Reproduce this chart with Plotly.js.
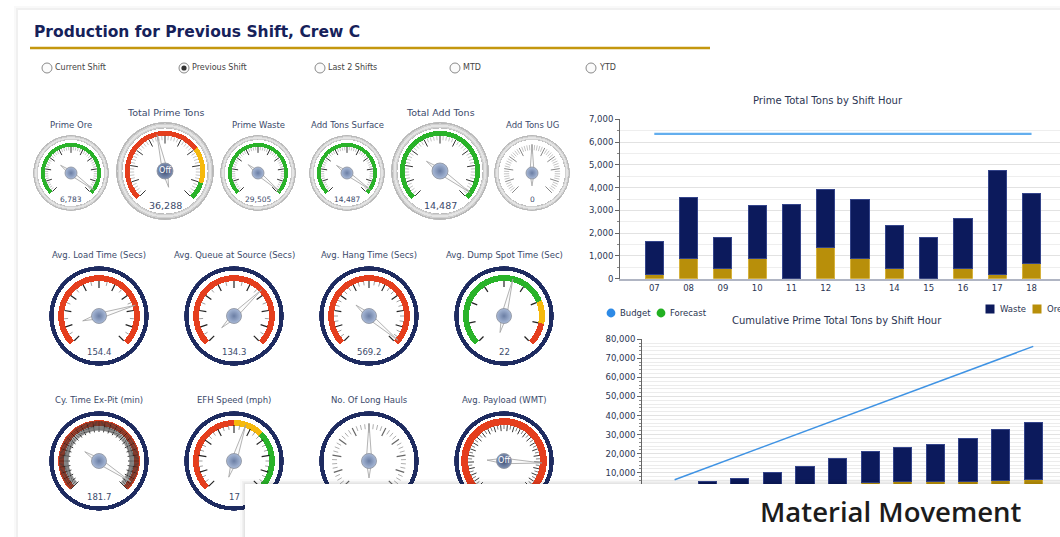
<!DOCTYPE html>
<html><head><meta charset="utf-8">
<script src="https://cdn.plot.ly/plotly-3.0.1.min.js"></script>
<style>html,body{margin:0;padding:0;background:#fff;overflow:hidden}#chart{width:1060px;height:537px}</style>
</head><body><div id="chart"></div><script>
// ================= DATA =================
const shiftHours = ['07','08','09','10','11','12','13','14','15','16','17','18'];
const oreTons    = [206, 908, 439, 908, 0, 1391, 908, 439, 0, 439, 205, 688];
const wasteTons  = [1419, 2650, 1377, 2328, 3266, 2534, 2592, 1889, 1816, 2197, 4540, 3061];
const budgetTons = [6356, 6356, 6356, 6356, 6356, 6356, 6356, 6356, 6356, 6356, 6356, 6356];
const budgetCumulative = [6356, 12712, 19068, 25424, 31780, 38136, 44492, 50848, 57204, 63560, 69916, 76272];
const forecastCumulative = [];

const periodOptions = ['Current Shift', 'Previous Shift', 'Last 2 Shifts', 'MTD', 'YTD'];
const selectedPeriod = 1;

const gaugeNames = ['Prime Ore', 'Total Prime Tons', 'Prime Waste', 'Add Tons Surface', 'Total Add Tons', 'Add Tons UG',
  'Avg. Load Time (Secs)', 'Avg. Queue at Source (Secs)', 'Avg. Hang Time (Secs)', 'Avg. Dump Spot Time (Sec)',
  'Cy. Time Ex-Pit (min)', 'EFH Speed (mph)', 'No. Of Long Hauls', 'Avg. Payload (WMT)'];
const gaugeValues    = [6783, 36288, 29505, 14487, 14487, 0, 154.4, 134.3, 569.2, 22, 181.7, 17, 0, 228];
const gaugeValueText = ['6,783', '36,288', '29,505', '14,487', '14,487', '0', '154.4', '134.3', '569.2', '22', '181.7', '17', '', ''];
const gaugeHubText   = ['', 'Off', '', '', '', '', '', '', '', '', '', '', '', 'Off'];
const gaugeMin = [0, 0, 0, 0, 0, -10, 0, 0, 0, 0, 0, 0, -10, 0];
const gaugeMax = [7000, 80000, 30000, 15000, 15000, 10, 200, 200, 580, 40, 190, 30, 10, 270];
const gaugeBandStops  = [[7000], [56000, 72000, 80000], [30000], [15000], [15000], [], [200], [200], [580], [30, 35, 40], [190], [15, 20, 30], [], [270]];
const gaugeBandColors = [['g'], ['r', 'y', 'g'], ['g'], ['g'], ['g'], [], ['r'], ['r'], ['r'], ['g', 'y', 'r'], ['r'], ['r', 'y', 'g'], [], ['r']];

// ================= STYLE / LAYOUT =================
const W = 1060, H = 537;
const P = x => x / W, Q = y => 1 - y / H;
const FONT = 'DejaVu Sans, Verdana, sans-serif';
const TXT = '#3b4a6b';
const COLORS = {g: '#29b329', r: '#e53e1d', y: '#f6b90c'};

// cx, cy, R, style, kind
const gaugePos = [
  [71, 173, 38, 'bezel', 's'], [165, 171, 49, 'bezel', 'b'], [258, 173, 38, 'bezel', 's'],
  [347, 173, 38, 'bezel', 's'], [440, 171, 49, 'bezel', 'b'], [532, 173, 38, 'bezel', 's'],
  [99, 316, 50, 'ring', 'm'], [234, 316, 50, 'ring', 'm'], [369, 316, 50, 'ring', 'm'], [504, 316, 50, 'ring', 'm'],
  [99, 461, 50, 'ring', 'm'], [234, 461, 50, 'ring', 'm'], [369, 461, 50, 'ring', 'm'], [504, 461, 50, 'ring', 'm']
];
// nMaj, nMin, majColor, minColor, rMajIn, rMinIn, rOut, majW, minW
const tickStyle = [
  [10, 5, '#333', '#9a9a9a', 0.53, 0.6, 0.69, 1, 0.6],
  [10, 5, '#333', '#9a9a9a', 0.56, 0.63, 0.72, 1, 0.6],
  [10, 5, '#333', '#9a9a9a', 0.53, 0.6, 0.69, 1, 0.6],
  [10, 5, '#333', '#9a9a9a', 0.53, 0.6, 0.69, 1, 0.6],
  [10, 5, '#333', '#9a9a9a', 0.56, 0.63, 0.72, 1, 0.6],
  [10, 5, '#888', '#aaaaaa', 0.5, 0.6, 0.74, 1, 0.7],
  [10, 2, '#222', '#888', 0.56, 0.62, 0.70, 1.2, 0.8],
  [10, 2, '#222', '#888', 0.56, 0.62, 0.70, 1.2, 0.8],
  [10, 3, '#222', '#888', 0.56, 0.62, 0.70, 1.1, 0.8],
  [8, 1, '#222', '#888', 0.58, 0.58, 0.70, 1.2, 0.8],
  [30, 5, '#222', '#3a3a3a', 0.58, 0.61, 0.80, 0.9, 0.8],
  [10, 3, '#222', '#777', 0.56, 0.63, 0.72, 1.1, 0.7],
  [10, 4, '#666', '#999', 0.56, 0.64, 0.74, 1.2, 0.8],
  [25, 2, '#222', '#444', 0.6, 0.64, 0.72, 0.9, 0.7]
];

const traces = [];
const shapes = [];
const annotations = [];
const layout = {
  width: W, height: H, margin: {l: 0, r: 0, t: 0, b: 0},
  paper_bgcolor: '#ffffff', plot_bgcolor: 'rgba(0,0,0,0)',
  showlegend: false, barmode: 'stack', hovermode: false,
  font: {family: FONT, size: 9, color: '#2b3552'}
};

// ---- card background ----
shapes.push({type: 'rect', xref: 'paper', yref: 'paper', layer: 'below', x0: P(14), x1: P(1070), y0: Q(560), y1: Q(6), fillcolor: 'rgba(0,0,0,0.025)', line: {width: 0}});
shapes.push({type: 'rect', xref: 'paper', yref: 'paper', layer: 'below', x0: P(16), x1: P(1070), y0: Q(560), y1: Q(8), fillcolor: 'rgba(0,0,0,0.035)', line: {width: 0}});
shapes.push({type: 'rect', xref: 'paper', yref: 'paper', layer: 'below', x0: P(18), x1: P(1070), y0: Q(560), y1: Q(10), fillcolor: '#ffffff', line: {width: 0}});

// ---- header ----
annotations.push({xref: 'paper', yref: 'paper', x: P(32), y: Q(32), xanchor: 'left', yanchor: 'middle', showarrow: false,
  text: '<b>Production for Previous Shift, Crew C</b>', font: {family: FONT, size: 15.5, color: '#16215a'}});
shapes.push({type: 'line', xref: 'paper', yref: 'paper', x0: P(30), x1: P(710), y0: Q(48), y1: Q(48), line: {color: '#c4970e', width: 2.5}});
const radioX = [47, 184, 320, 455, 591];
periodOptions.forEach((opt, k) => {
  const x = radioX[k], y = 68;
  shapes.push({type: 'circle', xref: 'paper', yref: 'paper', x0: P(x - 5), x1: P(x + 5), y0: Q(y + 5), y1: Q(y - 5), fillcolor: '#fbfbfb', line: {color: '#8a8a8a', width: 1}});
  if (k === selectedPeriod) shapes.push({type: 'circle', xref: 'paper', yref: 'paper', x0: P(x - 2.6), x1: P(x + 2.6), y0: Q(y + 2.6), y1: Q(y - 2.6), fillcolor: '#333', line: {width: 0}});
  annotations.push({xref: 'paper', yref: 'paper', x: P(x + 6), y: Q(y), xanchor: 'left', yanchor: 'middle', showarrow: false,
    text: opt, font: {family: FONT, size: 8, color: '#444'}});
});

// ---- gauges ----
function tickTrace(sub, count, skip, rIn, rOut, color, width) {
  const r = [], th = [];
  for (let k = 0; k <= count; k++) {
    if (skip && k % skip === 0) continue;
    const t = k / count * 270;
    r.push(rIn, rOut, null); th.push(t, t, null);
  }
  return {type: 'scatterpolar', subplot: sub, mode: 'lines', r: r, theta: th, line: {color: color, width: width}, hoverinfo: 'skip'};
}
function ring(sub, r0, r1, color) {
  return {type: 'barpolar', subplot: sub, theta: [90, 270], width: [180, 180], base: [r0, r0], r: [r1 - r0, r1 - r0],
    marker: {color: color, line: {width: 0}}, hoverinfo: 'skip'};
}

gaugeNames.forEach((name, i) => {
  const [cx, cy, R, style, kind] = gaugePos[i];
  const sub = i === 0 ? 'polar' : 'polar' + (i + 1);
  layout[sub] = {
    domain: {x: [P(cx - R), P(cx + R)], y: [Q(cy + R), Q(cy - R)]},
    bgcolor: 'rgba(0,0,0,0)',
    radialaxis: {visible: false, range: [0, 1]},
    angularaxis: {visible: false, rotation: 225, direction: 'clockwise'}
  };
  const mn = gaugeMin[i], mx = gaugeMax[i];
  const th = v => (v - mn) / (mx - mn) * 270;

  if (style === 'bezel') {
    traces.push(ring(sub, 0.87, 1.0, '#d0d0d0'));
    traces.push(ring(sub, 0.97, 1.0, '#b8b8b8'));
    traces.push(ring(sub, 0.905, 0.945, '#e4e4e4'));
    traces.push(ring(sub, 0.87, 0.882, '#bdbdbd'));
  } else {
    traces.push(ring(sub, 0.91, 0.995, '#1e2b60'));
  }
  // bands
  let bIn = 0.70, bOut = 0.82;
  if (kind === 's') { bIn = 0.69; bOut = 0.79; }
  if (kind === 'b') { bIn = 0.72; bOut = 0.82; }
  if (i === 13) { bIn = 0.72; bOut = 0.86; }
  let prev = mn;
  gaugeBandStops[i].forEach((stop, k) => {
    const a = th(prev), b = th(stop);
    traces.push({type: 'barpolar', subplot: sub, theta: [(a + b) / 2], width: [b - a], base: [bIn], r: [bOut - bIn],
      marker: {color: COLORS[gaugeBandColors[i][k]], line: {width: 0}}, hoverinfo: 'skip'});
    prev = stop;
  });
  // ticks
  const [nMaj, nMin, cMaj, cMin, rMajIn, rMinIn, rOut, wMaj, wMin] = tickStyle[i];
  if (nMin > 1) traces.push(tickTrace(sub, nMaj * nMin, nMin, rMinIn, rOut, cMin, wMin));
  traces.push(tickTrace(sub, nMaj, 0, rMajIn, rOut, cMaj, wMaj));
  // needle
  const t = th(gaugeValues[i]);
  traces.push({type: 'scatterpolar', subplot: sub, mode: 'lines', fill: 'toself',
    r: [0.76, 0.055, 0.34, 0.055, 0.76], theta: [t, t + 90, t + 180, t - 90, t],
    line: {color: '#a0a0a0', width: 0.8}, fillcolor: '#fbfbfb', hoverinfo: 'skip'});
  // hub
  const off = gaugeHubText[i] !== '';
  const hubSize = kind === 's' ? 12 : (kind === 'b' ? 16 : 15);
  traces.push({type: 'scatterpolar', subplot: sub, mode: off ? 'markers+text' : 'markers', r: [0], theta: [0],
    text: [gaugeHubText[i]], textposition: 'middle center', textfont: {family: FONT, size: 8, color: '#ffffff'},
    marker: {size: hubSize, color: off ? '#7d90b3' : '#a9bad8', gradient: {type: 'radial', color: off ? '#3e4d72' : '#6b7ea4'},
      line: {color: '#8a8f9a', width: 0.8}}, hoverinfo: 'skip'});

  // texts
  const tOff = kind === 's' ? 48 : (kind === 'b' ? 58 : 61);
  const tSize = kind === 'b' ? 9.5 : 8.5;
  const vOff = kind === 's' ? 26 : (kind === 'b' ? 35 : 36);
  const vSize = kind === 's' ? 7.5 : (kind === 'b' ? 9.5 : 8.5);
  annotations.push({xref: 'paper', yref: 'paper', x: P(cx), y: Q(cy - tOff), xanchor: 'center', yanchor: 'middle', showarrow: false,
    text: name, font: {family: FONT, size: tSize, color: TXT}});
  if (gaugeValueText[i] !== '') annotations.push({xref: 'paper', yref: 'paper', x: P(cx), y: Q(cy + vOff), xanchor: 'center', yanchor: 'middle', showarrow: false,
    text: gaugeValueText[i], font: {family: FONT, size: vSize, color: TXT}});
});

// ---- top bar chart ----
const NAVY = '#0c1a5c', GOLD = '#b88f0a';
traces.push({type: 'bar', x: shiftHours, y: oreTons, name: 'Ore', xaxis: 'x', yaxis: 'y', width: 0.53,
  marker: {color: GOLD, line: {color: '#d6b23c', width: 1}}, hoverinfo: 'skip'});
traces.push({type: 'bar', x: shiftHours, y: wasteTons, name: 'Waste', xaxis: 'x', yaxis: 'y', width: 0.53,
  marker: {color: NAVY, line: {color: '#34448a', width: 1}}, hoverinfo: 'skip'});
traces.push({type: 'scatter', x: shiftHours, y: budgetTons, name: 'Budget', mode: 'lines', xaxis: 'x', yaxis: 'y',
  line: {color: '#63aeee', width: 2.2}, hoverinfo: 'skip'});

// ---- cumulative chart ----
const cumOre = [], cumWaste = [];
oreTons.reduce((s, v, k) => (cumOre[k] = s + v), 0);
wasteTons.reduce((s, v, k) => (cumWaste[k] = s + v), 0);
traces.push({type: 'bar', x: shiftHours, y: cumOre, name: 'Ore', xaxis: 'x2', yaxis: 'y2', width: 0.56,
  marker: {color: GOLD, line: {color: '#d6b23c', width: 1}}, hoverinfo: 'skip'});
traces.push({type: 'bar', x: shiftHours, y: cumWaste, name: 'Waste', xaxis: 'x2', yaxis: 'y2', width: 0.56,
  marker: {color: NAVY, line: {color: '#34448a', width: 1}}, hoverinfo: 'skip'});
traces.push({type: 'scatter', x: shiftHours, y: budgetCumulative, name: 'Budget', mode: 'lines', xaxis: 'x2', yaxis: 'y2',
  line: {color: '#3f93e4', width: 1.5}, hoverinfo: 'skip'});
traces.push({type: 'scatter', x: shiftHours.slice(0, forecastCumulative.length), y: forecastCumulative, name: 'Forecast', mode: 'lines', xaxis: 'x2', yaxis: 'y2',
  line: {color: '#22b022', width: 1.5}, hoverinfo: 'skip'});

const yCommon = {ticks: 'outside', ticklen: 4, tickcolor: '#666', showline: true, linecolor: '#666', linewidth: 1,
  gridcolor: '#e2e2e2', zeroline: false, tickformat: ',d', tickfont: {family: FONT, size: 8.5, color: '#2b3552'}, fixedrange: true};
const xCommon = {type: 'category', showline: true, linecolor: '#b0b5c3', linewidth: 2, ticks: '', showgrid: false, zeroline: false,
  tickfont: {family: FONT, size: 8.5, color: '#2b3552'}, fixedrange: true};
layout.xaxis = Object.assign({}, xCommon, {domain: [P(620), 1], anchor: 'y', range: [-1, 11.83]});
layout.yaxis = Object.assign({}, yCommon, {domain: [Q(278.7), Q(119.3)], anchor: 'x', range: [0, 7000], dtick: 1000,
  minor: {dtick: 500, ticks: 'outside', ticklen: 2, tickcolor: '#888', showgrid: true, gridcolor: '#eeeeee'}});
// bottom chart's hour labels sit under the overlaid card, so they are not drawn
layout.xaxis2 = Object.assign({}, xCommon, {domain: [P(642), 1], anchor: 'y2', range: [-1, 11.82], showticklabels: false});
layout.yaxis2 = Object.assign({}, yCommon, {domain: [Q(491.8), Q(339.3)], anchor: 'x2', range: [0, 80000], dtick: 10000,
  minor: {dtick: 2000, ticks: 'outside', ticklen: 2, tickcolor: '#888', showgrid: true, gridcolor: '#ececec'}});

annotations.push({xref: 'paper', yref: 'paper', x: P(828), y: Q(100), xanchor: 'center', yanchor: 'middle', showarrow: false,
  text: 'Prime Total Tons by Shift Hour', font: {family: FONT, size: 10, color: '#2b3552'}});
annotations.push({xref: 'paper', yref: 'paper', x: P(837), y: Q(320), xanchor: 'center', yanchor: 'middle', showarrow: false,
  text: 'Cumulative Prime Total Tons by Shift Hour', font: {family: FONT, size: 10, color: '#2b3552'}});

// legends
const legendItems = [
  {label: 'Budget', color: '#2d8ae6', shape: 'circle', x: 611, y: 313},
  {label: 'Forecast', color: '#22b022', shape: 'circle', x: 661, y: 313},
  {label: 'Waste', color: NAVY, shape: 'rect', x: 990, y: 309},
  {label: 'Ore', color: GOLD, shape: 'rect', x: 1037, y: 309}
];
legendItems.forEach(it => {
  const s = it.shape === 'circle' ? 4.4 : 4.5;
  shapes.push({type: it.shape, xref: 'paper', yref: 'paper', x0: P(it.x - s), x1: P(it.x + s), y0: Q(it.y + s), y1: Q(it.y - s),
    fillcolor: it.color, line: {width: 0}});
  annotations.push({xref: 'paper', yref: 'paper', x: P(it.x + s + 3), y: Q(it.y), xanchor: 'left', yanchor: 'middle', showarrow: false,
    text: it.label, font: {family: FONT, size: 8.5, color: '#2b3552'}});
});

// ---- overlay card "Material Movement" ----
shapes.push({type: 'rect', xref: 'paper', yref: 'paper', layer: 'above', x0: P(240), x1: P(1070), y0: Q(560), y1: Q(479), fillcolor: 'rgba(0,0,0,0.02)', line: {width: 0}});
shapes.push({type: 'rect', xref: 'paper', yref: 'paper', layer: 'above', x0: P(242), x1: P(1070), y0: Q(560), y1: Q(481), fillcolor: 'rgba(0,0,0,0.035)', line: {width: 0}});
shapes.push({type: 'rect', xref: 'paper', yref: 'paper', layer: 'above', x0: P(243.5), x1: P(1070), y0: Q(560), y1: Q(482.5), fillcolor: 'rgba(0,0,0,0.05)', line: {width: 0}});
shapes.push({type: 'rect', xref: 'paper', yref: 'paper', layer: 'above', x0: P(245), x1: P(1070), y0: Q(560), y1: Q(484), fillcolor: '#ffffff', line: {width: 0}});
annotations.push({xref: 'paper', yref: 'paper', x: P(1024), y: Q(511), xanchor: 'right', yanchor: 'middle', showarrow: false,
  text: 'Material Movement', font: {family: 'Open Sans, Noto Sans, sans-serif', size: 27.5, weight: 600, color: '#1c1c1c'}});

layout.shapes = shapes;
layout.annotations = annotations;
Plotly.newPlot('chart', traces, layout, {staticPlot: true, displayModeBar: false});
</script></body></html>
